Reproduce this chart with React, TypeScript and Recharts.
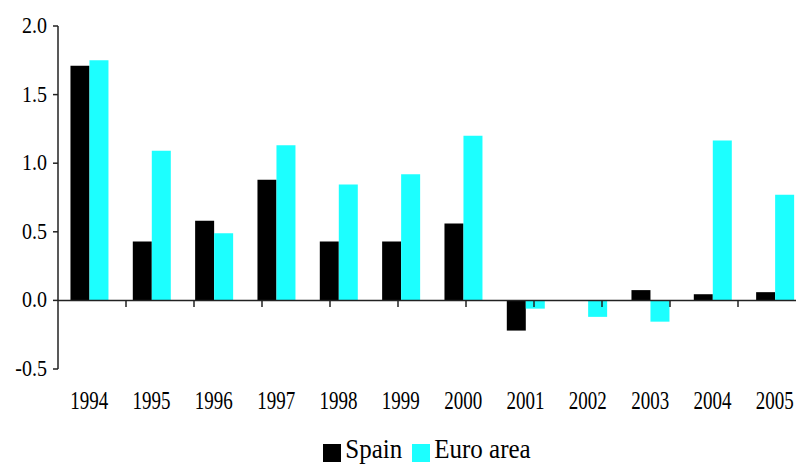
import React from 'react';
import { BarChart, Bar, XAxis, YAxis, ReferenceLine, Legend } from 'recharts';

const years = ['1994', '1995', '1996', '1997', '1998', '1999', '2000', '2001', '2002', '2003', '2004', '2005'];
const spain = [1.71, 0.43, 0.58, 0.88, 0.43, 0.43, 0.56, -0.22, 0, 0.075, 0.045, 0.06];
const euro = [1.75, 1.09, 0.49, 1.13, 0.845, 0.92, 1.2, -0.06, -0.12, -0.155, 1.165, 0.77];
const yTicks = [-0.5, 0, 0.5, 1, 1.5, 2];
const boundaries = [1, 2, 3, 4, 5, 6, 7, 8, 9, 10, 11, 12];
const legendOrder = ['Spain', 'Euro area'];

const data = years.map((y, i) => ({ year: y, Spain: spain[i], Euro: euro[i] }));

const FONT = 'Liberation Serif';

const XTick = (props: any) => {
  const { x, y, payload } = props;
  return (
    <g transform={`translate(${x},${y}) scale(1,1.3)`}>
      <text x={0} y={0} dy={25} textAnchor="middle" fontFamily={FONT} fontSize={19} fill="#000">
        {payload.value}
      </text>
    </g>
  );
};

const YTick = (props: any) => {
  const { x, y, payload } = props;
  return (
    <g transform={`translate(${x},${y}) scale(1,1.15)`}>
      <text x={-4} y={0} dy={6} textAnchor="end" fontFamily={FONT} fontSize={20} fill="#000">
        {Number(payload.value).toFixed(1)}
      </text>
    </g>
  );
};

export default function App() {
  return (
    <div style={{ position: 'fixed', left: 0, top: 0, width: 796, height: 476, overflow: 'hidden', background: '#fff' }}>
      <BarChart
        width={820}
        height={476}
        data={data}
        margin={{ top: 26, right: 14, bottom: 0, left: 0 }}
        barGap={0}
        barCategoryGap="20%"
      >
        <XAxis
          dataKey="year"
          axisLine={false}
          tickLine={false}
          height={80}
          interval={0}
          tick={<XTick />}
        />
        <XAxis xAxisId="n" type="number" domain={[0, 12]} hide />
        <YAxis
          domain={[-0.5, 2]}
          ticks={yTicks}
          width={58}
          axisLine={{ stroke: '#222', strokeWidth: 1.5 }}
          tickLine={{ stroke: '#222', strokeWidth: 1.5 }}
          tickSize={5}
          tick={<YTick />}
          interval={0}
        />
        <Bar dataKey="Spain" name="Spain" fill="#000000" isAnimationActive={false} />
        <Bar dataKey="Euro" name="Euro area" fill="#1cffff" isAnimationActive={false} />
        <ReferenceLine y={0} stroke="#222" strokeWidth={1.5} />
        {boundaries.map((b) => (
          <ReferenceLine
            key={b}
            xAxisId="n"
            segment={[{ x: b, y: 0 }, { x: b, y: -0.048 }]}
            stroke="#222"
            strokeWidth={1.5}
            ifOverflow="visible"
          />
        ))}
        <Legend
          verticalAlign="bottom"
          align="center"
          iconType="square"
          iconSize={18}
          itemSorter={(item: any) => legendOrder.indexOf(item.value)}
          wrapperStyle={{ bottom: 12, left: 29, lineHeight: '24px' }}
          formatter={(value: string) => (
            <span style={{ color: '#000', fontFamily: FONT, fontSize: 25, lineHeight: '24px', display: 'inline-block', transform: 'scaleY(1.1)' }}>
              {value}
            </span>
          )}
        />
      </BarChart>
    </div>
  );
}
